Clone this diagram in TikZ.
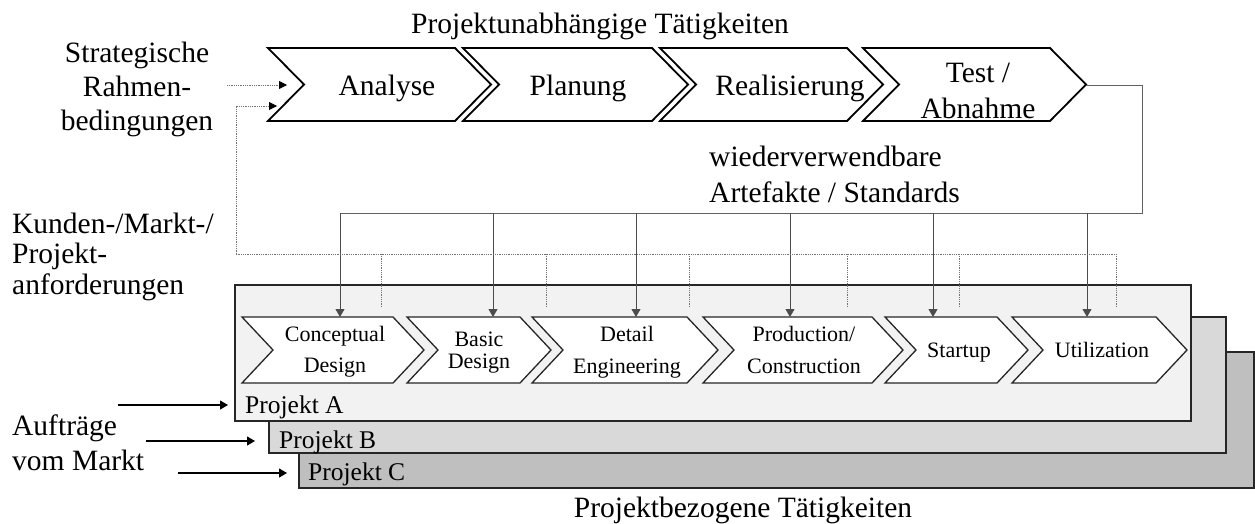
\documentclass[tikz,border=0pt]{standalone}
\usepackage{fontspec}
\setmainfont{Liberation Serif}
\usetikzlibrary{arrows.meta}

% chevron outline: style, left x, right-top x, top y, bottom y, point depth
\newcommand\chevpath[6]{%
  \draw[#1] (#2,#4) -- (#3,#4) -- ({#3+#6},{(#4+#5)/2}) -- (#3,#5) -- (#2,#5)
    -- ({#2+#6},{(#4+#5)/2}) -- cycle;}

\begin{document}
\begin{tikzpicture}[x=1pt,y=-1pt,
  chev/.style={draw=black, fill=white, line width=1.8pt},
  subchev/.style={draw=black!85, fill=white, line width=1.3pt},
  projbox/.style={draw=black!85, line width=1.6pt, rectangle, inner sep=0pt, anchor=north west},
  flow/.style={draw=black!62, line width=0.9pt},
  fb/.style={draw=black!55, line width=0.8pt, densely dotted},
  tip/.style={-{Triangle[length=8pt,width=9pt]}},
  dtip/.style={-{Triangle[length=8pt,width=8pt,color=black]}},
  big/.style={font=\fontsize{29.5}{34}\selectfont, inner sep=0pt},
  small/.style={font=\fontsize{22}{31}\selectfont, inner sep=0pt},
  lbl/.style={font=\fontsize{25.5}{30}\selectfont, inner sep=0pt},
]
% canvas
\fill[white] (0,0) rectangle (1255,523);
\useasboundingbox (0,0) rectangle (1255,523);

% ---------- project-independent phases ----------
% (multi-line nodes are placed by the baseline of their last line)
\node[big, anchor=base] (title) at (600,33) {Projektunabhängige Tätigkeiten};
\chevpath{chev}{268}{455}{48}{121}{36}
\chevpath{chev}{463}{652}{48}{121}{36}
\chevpath{chev}{660}{847}{48}{121}{36}
\chevpath{chev}{863}{1050}{48}{121}{36}
\node[big, anchor=base] (ana) at (387,95) {Analyse};
\node[big, anchor=base] (pla) at (578,95) {Planung};
\node[big, anchor=base] (rea) at (790,95) {Realisierung};
\node[big, anchor=base, align=center, font=\fontsize{29.5}{36}\selectfont] (tst) at (978,118) {Test /\\Abnahme};

% left-hand labels
\node[big, anchor=base, align=center] (strat) at (137,130) {Strategische\\Rahmen-\\bedingungen};
\node[big, anchor=base west, align=left, font=\fontsize{29.5}{30.5}\selectfont] (kunden) at (12,294) {Kunden-/Markt-/\\Projekt-\\anforderungen};
\node[big, anchor=base west, align=left, font=\fontsize{29.5}{35}\selectfont] (auftr) at (12,470) {Aufträge\\vom Markt};
\node[big, anchor=base west, align=left, font=\fontsize{29.5}{36}\selectfont] (artef) at (709,202) {wiederverwendbare\\Artefakte / Standards};

% ---------- project stack ----------
\node[projbox, fill=black!25, minimum width=955pt, minimum height=136pt] (projC) at (298,351) {};
\node[projbox, fill=black!15, minimum width=957pt, minimum height=136pt] (projB) at (268,316) {};
\node[projbox, fill=black!5, minimum width=956pt, minimum height=136pt] (projA) at (234,284) {};
\node[lbl, anchor=base west] (labA) at (245,413) {Projekt A};
\node[lbl, anchor=base west] (labB) at (279,448) {Projekt B};
\node[lbl, anchor=base west] (labC) at (308,480) {Projekt C};

% project phases
\chevpath{subchev}{242}{393}{317}{383}{31}
\chevpath{subchev}{407}{520}{317}{383}{31}
\chevpath{subchev}{532}{687}{317}{383}{31}
\chevpath{subchev}{703}{872}{317}{383}{31}
\chevpath{subchev}{885}{997}{317}{383}{31}
\chevpath{subchev}{1012}{1156}{317}{383}{31}
\node[small, anchor=base, align=center] (cd) at (335,372) {Conceptual\\Design};
\node[small, anchor=base, align=center, font=\fontsize{22}{22}\selectfont] (bd) at (479,368) {Basic\\Design};
\node[small, anchor=base, align=center, font=\fontsize{22}{32}\selectfont] (de) at (627,373) {Detail\\Engineering};
\node[small, anchor=base, align=center, font=\fontsize{22}{32}\selectfont] (pc) at (804,373) {Production/\\Construction};
\node[small, anchor=base] (su) at (959,357) {Startup};
\node[small, anchor=base] (ut) at (1102,357) {Utilization};

\node[big, anchor=base] (bottom) at (743,517) {Projektbezogene Tätigkeiten};

% ---------- connectors ----------
% reusable artefacts flow from Test/Abnahme into every project phase
\coordinate (tstTip) at (1086,85);
\coordinate (busR) at (1142,213);
\foreach \nm/\xx in {b1/340,b2/493,b3/636,b4/790,b5/933,b6/1087}{
  \coordinate (\nm) at (\xx,213);
  \coordinate (\nm in) at (\xx,317);
}
\draw[flow] (tstTip) -| (busR) -- (b1);
\foreach \nm in {b1,b2,b3,b4,b5,b6}{
  \draw[flow, tip, draw=black!70] (\nm) -- (\nm in);
}

% project requirements fed back to the analysis phase
\coordinate (fbL) at (236,254);
\coordinate (fbIn) at (277,106);
\coordinate (stIn) at (287,85);
\coordinate (stOut) at (227,85);
\foreach \nm/\xx in {f1/381,f2/546,f3/689,f4/847,f5/959,f6/1116}{
  \coordinate (\nm) at (\xx,254);
  \coordinate (\nm s) at (\xx,307);
}
\draw[fb] (f6s) -- (f6) -- (fbL);
\draw[fb, dtip] (fbL) |- (fbIn);
\foreach \nm in {f1,f2,f3,f4,f5}{
  \draw[fb] (\nm s) -- (\nm);
}
\draw[fb, dtip] (stOut) -- (stIn);

% incoming orders
\coordinate (oA) at (118,405);
\coordinate (oB) at (146,441);
\coordinate (oC) at (178,473);
\draw[line width=1.1pt, tip, shorten >=6pt] (oA) -- (oA -| projA.west);
\draw[line width=1.1pt, tip, shorten >=13pt] (oB) -- (oB -| projB.west);
\draw[line width=1.1pt, tip, shorten >=11pt] (oC) -- (oC -| projC.west);
\end{tikzpicture}
\end{document}
